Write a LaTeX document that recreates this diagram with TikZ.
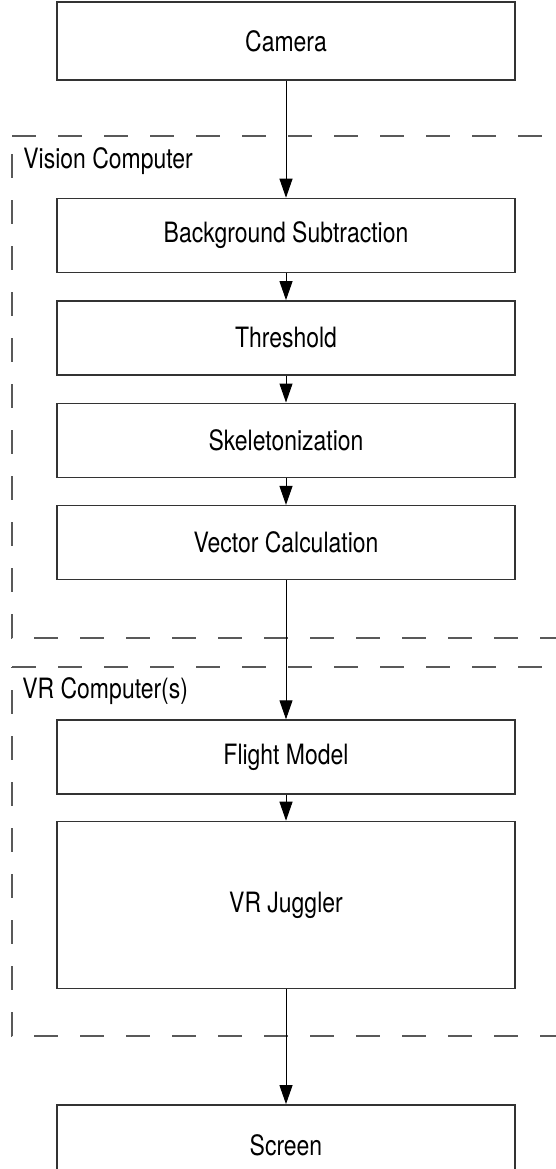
\documentclass[tikz,border=0pt]{standalone}
\usepackage{fontspec}
\setmainfont{TeX Gyre Heros}[FakeStretch=0.82]
\usetikzlibrary{positioning, arrows.meta}

\begin{document}
\begin{tikzpicture}[x=0.5pt, y=-0.5pt]
	\tikzstyle{block}=[rectangle, draw=black!80, line width=0.7pt, minimum
		width=229pt, minimum height=37pt, inner sep=0pt,
		font=\fontsize{14}{16}\selectfont]
	\tikzstyle{region}=[draw=black!65, line width=0.7pt, dash pattern=on 12pt
		off 11pt]
	\tikzstyle{grouplabel}=[anchor=base west, inner sep=0pt,
		font=\fontsize{14}{16}\selectfont]
	\tikzstyle{flow}=[-{Triangle[length=9.5pt, width=6.5pt]}, line width=0.5pt]

	\useasboundingbox (0,0) rectangle (556,1169);
	\clip (0,0) rectangle (556,1169);

	% groups
	\draw[region] (12,136) -- (600,136);
	\draw[region, dash phase=14pt] (12,136) -- (12,638) -- (600,638);
	\node[grouplabel] (vislabel) at (23,168) {Vision Computer};

	\draw[region] (12,667) -- (600,667);
	\draw[region, dash phase=11.5pt] (12,667) -- (12,1036) -- (600,1036);
	\node[grouplabel] (vrlabel) at (22,698) {VR Computer(s)};

	% pipeline
	\node[block, minimum height=39pt] (camera) at (286,41) {Camera};
	\node[block, below=58.5pt of camera] (bgsub) {Background Subtraction};
	\node[block, below=13.5pt of bgsub] (thresh) {Threshold};
	\node[block, below=13.5pt of thresh] (skel) {Skeletonization};
	\node[block, below=13.5pt of skel] (vector) {Vector Calculation};
	\node[block, below=69.5pt of vector] (flight) {Flight Model};
	\node[block, below=13pt of flight, minimum height=83.5pt] (juggler) {VR
		Juggler};
	\node[block, below=57.5pt of juggler, minimum height=40pt] (screen)
		{Screen};

		\draw[flow] (camera) -- (bgsub);
		\draw[flow] (bgsub) -- (thresh);
		\draw[flow] (thresh) -- (skel);
		\draw[flow] (skel) -- (vector);
		\draw[flow] (vector) -- (flight);
		\draw[flow] (flight) -- (juggler);
		\draw[flow] (juggler) -- (screen);
\end{tikzpicture}
\end{document}
